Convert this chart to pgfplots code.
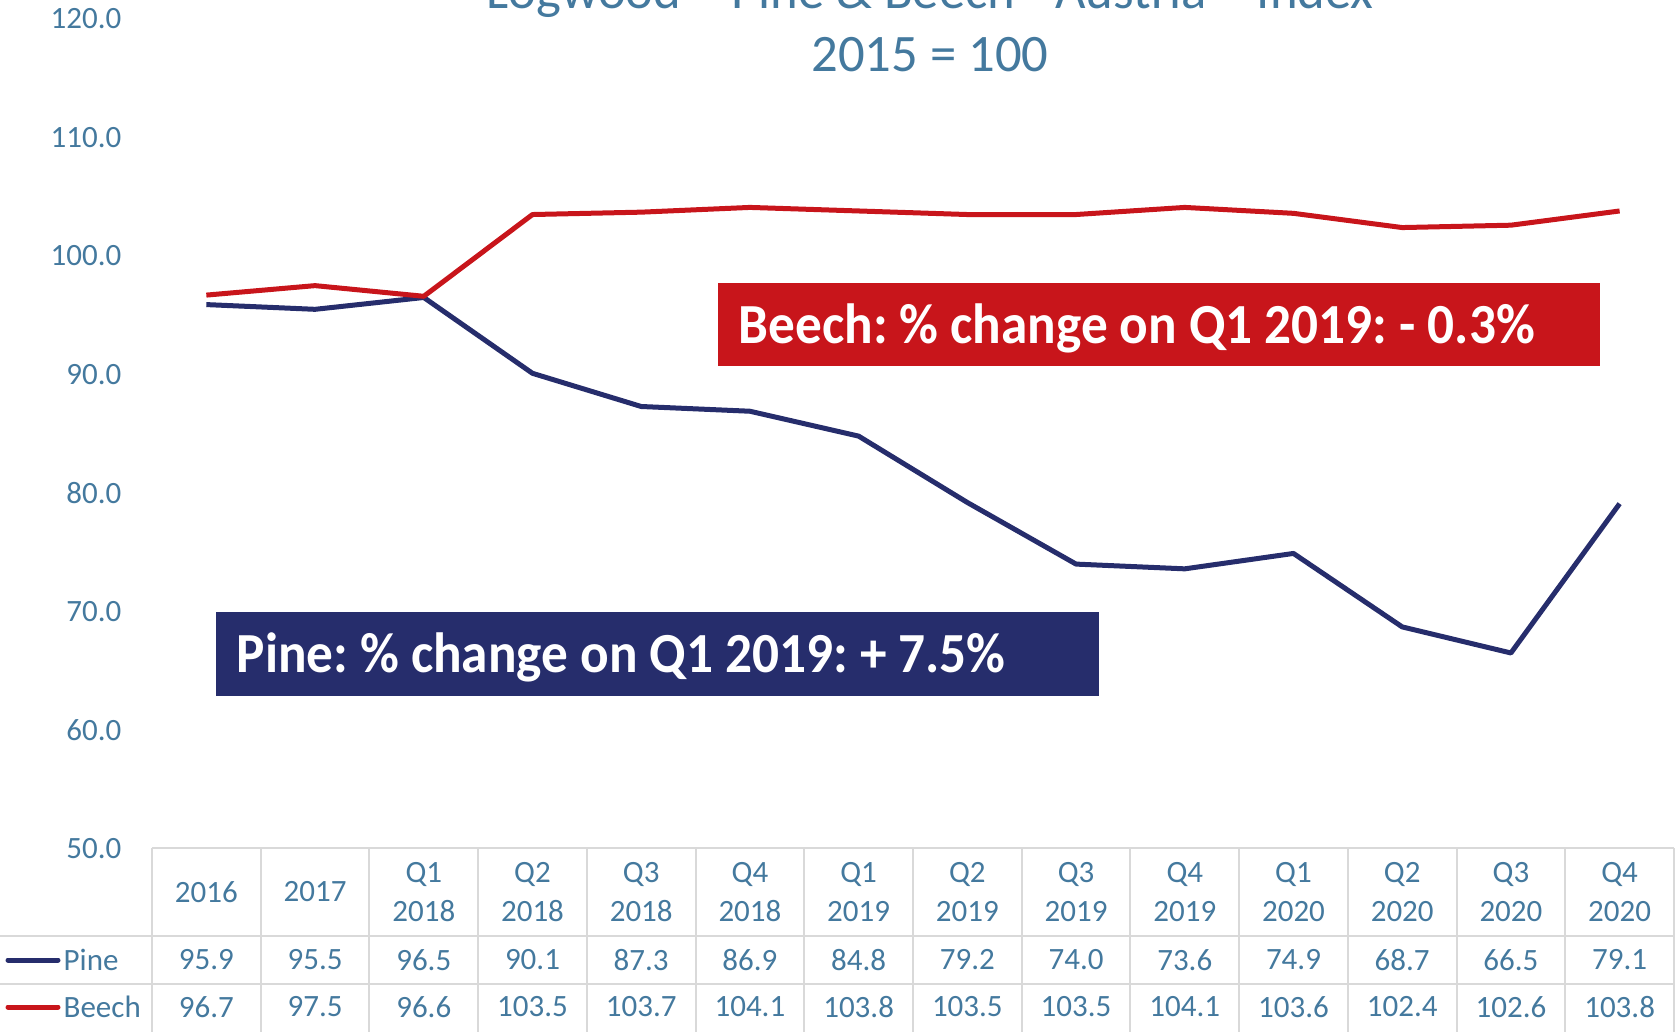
\documentclass[border=0pt]{standalone}
\usepackage{pgfplots}
\pgfplotsset{compat=1.18}
\usepackage{pgfplotstable}
\usepackage{fontspec}
\setmainfont{Carlito}
\frenchspacing
\definecolor{txt}{HTML}{44799E}
\definecolor{navy}{HTML}{262D6C}
\definecolor{redc}{HTML}{C8151B}
\definecolor{gridc}{HTML}{D9D9D9}

\pgfplotstableread{
x pine beech
0 95.9 96.7
1 95.5 97.5
2 96.5 96.6
3 90.1 103.5
4 87.3 103.7
5 86.9 104.1
6 84.8 103.8
7 79.2 103.5
8 74.0 103.5
9 73.6 104.1
10 74.9 103.6
11 68.7 102.4
12 66.5 102.6
13 79.1 103.8
}\data

\begin{document}
\begin{tikzpicture}[x=0.3pt,y=0.3pt]
\path[use as bounding box, clip] (0,0) rectangle (1676,1031);

% data table grid
\foreach \k in {0,...,14}
  \draw[gridc, line width=0.6pt] ({152+108.714*\k},183) -- ({152+108.714*\k},-10);
\draw[gridc, line width=0.6pt] (152,183) -- (1674,183);
\draw[gridc, line width=0.6pt] (0,95) -- (1674,95);
\draw[gridc, line width=0.6pt] (0,47) -- (1674,47);

% header labels
\foreach \lab [count=\i from 0] in {2016,2017,{Q1\\2018},{Q2\\2018},{Q3\\2018},{Q4\\2018},{Q1\\2019},{Q2\\2019},{Q3\\2019},{Q4\\2019},{Q1\\2020},{Q2\\2020},{Q3\\2020},{Q4\\2020}}
  \node[text=txt, align=center, inner sep=0pt, font=\fontsize{9.3}{11.7}\selectfont] at ({206.36+108.714*\i},139) {\lab};

% Pine row
\foreach \v [count=\i from 0] in {95.9,95.5,96.5,90.1,87.3,86.9,84.8,79.2,74.0,73.6,74.9,68.7,66.5,79.1}
  \node[text=txt, inner sep=0pt, font=\fontsize{9.3}{11.7}\selectfont] at ({206.36+108.714*\i},71) {\v};
% Beech row
\foreach \v [count=\i from 0] in {96.7,97.5,96.6,103.5,103.7,104.1,103.8,103.5,103.5,104.1,103.6,102.4,102.6,103.8}
  \node[text=txt, inner sep=0pt, font=\fontsize{9.3}{11.7}\selectfont] at ({206.36+108.714*\i},24) {\v};

% legend keys
\draw[navy, line width=1.5pt, line cap=round] (8,71) -- (58,71);
\node[anchor=west, inner sep=0pt, text=txt, font=\fontsize{9.3}{11.7}\selectfont] at (63,71) {Pine};
\draw[redc, line width=1.5pt, line cap=round] (8,24) -- (58,24);
\node[anchor=west, inner sep=0pt, text=txt, font=\fontsize{9.3}{11.7}\selectfont] at (63,24) {Beech};

\begin{axis}[
  at={(45.6pt,54.75pt)}, anchor=south west,
  scale only axis, width=456.6pt, height=248.85pt,
  xmin=-0.5, xmax=13.5, ymin=50, ymax=120,
  ytick={50,60,...,120}, xtick=\empty,
  axis line style={draw=none}, tick style={draw=none},
  yticklabel style={font=\fontsize{9.3}{11.7}\selectfont, text=txt, inner sep=0pt, anchor=east, xshift=-9pt},
  /pgf/number format/.cd, fixed, fixed zerofill, precision=1, assume math mode=true,
  /pgfplots/.cd,
  clip=false]
\addplot[navy, line width=1.5pt, line join=round] table[x=x,y=pine]{\data};
\addplot[redc, line width=1.5pt, line join=round] table[x=x,y=beech]{\data};
\end{axis}

% title
\node[anchor=base, text=txt, inner sep=0pt, font=\fontsize{15.8}{19}\selectfont] at (930,1022) {Logwood – Pine \& Beech - Austria – Index};
\node[anchor=base, text=txt, inner sep=0pt, font=\fontsize{15.8}{19}\selectfont] at (930,959) {2015 = 100};

% annotation boxes
\fill[redc] (718,748) rectangle (1600,665);
\node[anchor=base west, inner sep=0pt, text=white, font=\bfseries\fontsize{17}{20}\selectfont] at (738,687) {\scalebox{0.94}[1]{Beech: \% change on Q1 2019: - 0.3\%}};
\fill[navy] (216,419) rectangle (1099,335);
\node[anchor=base west, inner sep=0pt, text=white, font=\bfseries\fontsize{17}{20}\selectfont] at (236,358) {\scalebox{0.94}[1]{Pine: \% change on Q1 2019: + 7.5\%}};
\end{tikzpicture}
\end{document}
